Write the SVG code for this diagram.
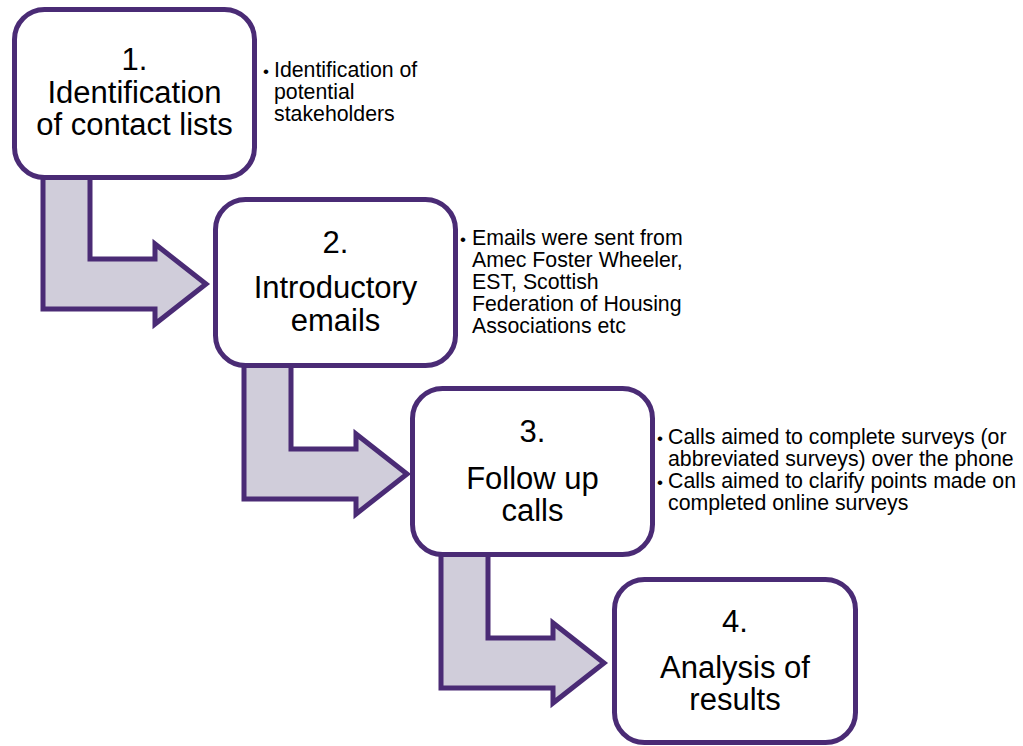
<svg xmlns="http://www.w3.org/2000/svg" width="1023" height="746" viewBox="0 0 1023 746">
<style>
.box{fill:#fff;stroke:#4a2b75;stroke-width:5}
.arr{fill:#d0cdda;stroke:#4a2b75;stroke-width:5;stroke-linejoin:miter}
.t{font-family:"Liberation Sans",Arial,sans-serif;font-size:31px;fill:#000;text-anchor:middle}
.s{font-family:"Liberation Sans",Arial,sans-serif;font-size:21.3px;fill:#000}
.b{font-family:"Liberation Sans",Arial,sans-serif;font-size:17px;fill:#000}
</style>
<defs>
<path id="arrow" d="M31,160 V302 H143 V317 L194,277 L143,237 V252 H78 V160 Z"/>
</defs>
<g id="connectors">
<use href="#arrow" class="arr" transform="translate(12,7)"/>
<use href="#arrow" class="arr" transform="translate(213,197)"/>
<use href="#arrow" class="arr" transform="translate(410,386)"/>
</g>
<g id="step1">
<rect class="box" x="14.5" y="9.5" width="240" height="168" rx="30"/>
<text class="t" x="134.5" y="70">1.</text>
<text class="t" x="134.5" y="103">Identification</text>
<text class="t" x="134.5" y="135">of contact lists</text>
</g>
<g id="note1">
<text class="b" x="263" y="77">•</text>
<text class="s" x="274" y="77">Identification of</text>
<text class="s" x="274" y="99">potential</text>
<text class="s" x="274" y="121">stakeholders</text>
</g>
<g id="step2">
<rect class="box" x="215.5" y="199.5" width="240" height="166" rx="30"/>
<text class="t" x="335.5" y="253">2.</text>
<text class="t" x="335.5" y="298">Introductory</text>
<text class="t" x="335.5" y="331">emails</text>
</g>
<g id="note2">
<text class="b" x="460" y="245">•</text>
<text class="s" x="472" y="245">Emails were sent from</text>
<text class="s" x="472" y="267">Amec Foster Wheeler,</text>
<text class="s" x="472" y="289">EST, Scottish</text>
<text class="s" x="472" y="311">Federation of Housing</text>
<text class="s" x="472" y="333">Associations etc</text>
</g>
<g id="step3">
<rect class="box" x="412.5" y="388.5" width="240" height="166" rx="30"/>
<text class="t" x="532.5" y="442">3.</text>
<text class="t" x="532.5" y="489">Follow up</text>
<text class="t" x="532.5" y="521">calls</text>
</g>
<g id="note3">
<text class="b" x="657" y="444">•</text>
<text class="s" x="668" y="444">Calls aimed to complete surveys (or</text>
<text class="s" x="668" y="466">abbreviated surveys) over the phone</text>
<text class="b" x="657" y="488">•</text>
<text class="s" x="668" y="488">Calls aimed to clarify points made on</text>
<text class="s" x="668" y="510">completed online surveys</text>
</g>
<g id="step4">
<rect class="box" x="614.5" y="579.5" width="241" height="163" rx="30"/>
<text class="t" x="735" y="632">4.</text>
<text class="t" x="735" y="678">Analysis of</text>
<text class="t" x="735" y="710">results</text>
</g>
</svg>
